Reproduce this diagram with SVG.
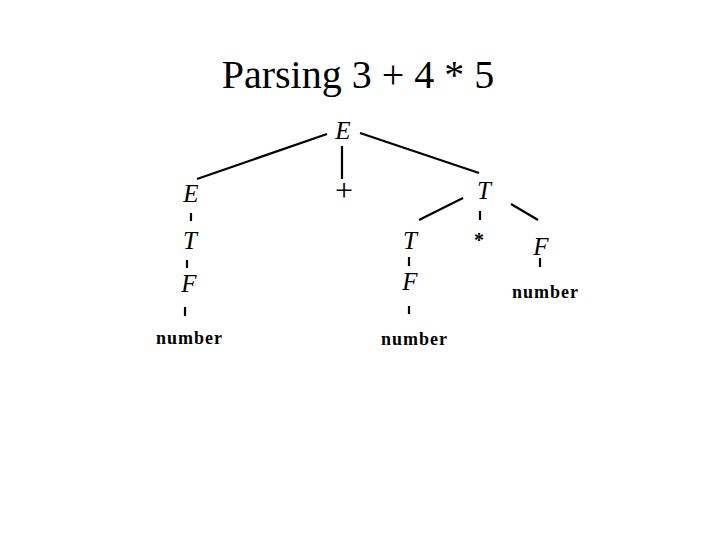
<svg xmlns="http://www.w3.org/2000/svg" width="720" height="540" viewBox="0 0 720 540">
<style>
.title{font-family:"Liberation Serif","DejaVu Serif","Times New Roman",serif;font-size:40px;fill:#000;text-anchor:middle}
.nt{font-family:"Liberation Serif","DejaVu Serif","Times New Roman",serif;font-size:25px;font-style:italic;fill:#000;text-anchor:middle}
.op{font-family:"Liberation Serif","DejaVu Serif","Times New Roman",serif;font-size:32px;fill:#000;text-anchor:middle}
.star{font-family:"Liberation Serif","DejaVu Serif","Times New Roman",serif;font-size:20px;font-weight:bold;fill:#000;text-anchor:middle}
.num{font-family:"Liberation Serif","DejaVu Serif","Times New Roman",serif;font-size:18px;font-weight:bold;fill:#000;text-anchor:middle}
.edge{stroke:#000;stroke-width:2.2;fill:none}
</style>
<rect width="720" height="540" fill="#fff"/>
<text class="title" x="358" y="88">Parsing 3 + 4 * 5</text>
<g id="connectors">
<line class="edge" x1="327" y1="134" x2="197" y2="179"/>
<line class="edge" x1="342" y1="146" x2="342" y2="179"/>
<line class="edge" x1="360" y1="133" x2="479" y2="173"/>
<line class="edge" x1="463" y1="198" x2="419" y2="220"/>
<line class="edge" x1="511" y1="204" x2="538" y2="220"/>
<line class="edge" x1="480" y1="211" x2="480" y2="220"/>
<line class="edge" x1="191" y1="213" x2="191" y2="221"/>
<line class="edge" x1="187" y1="260" x2="187" y2="268"/>
<line class="edge" x1="185" y1="307" x2="185" y2="316"/>
<line class="edge" x1="409" y1="257" x2="409" y2="266"/>
<line class="edge" x1="409" y1="306" x2="409" y2="314"/>
<line class="edge" x1="540" y1="258" x2="540" y2="267"/>
</g>
<g id="E-root"><text class="nt" x="343" y="139">E</text></g>
<g id="E-left"><text class="nt" x="191" y="202">E</text></g>
<g id="plus"><text class="op" x="344" y="201">+</text></g>
<g id="T-right"><text class="nt" x="484" y="199">T</text></g>
<g id="T-left"><text class="nt" x="190" y="249">T</text></g>
<g id="F-left"><text class="nt" x="189" y="292">F</text></g>
<g id="number-left"><text class="num" x="189" y="344" textLength="66">number</text></g>
<g id="T-mid"><text class="nt" x="410" y="249">T</text></g>
<g id="F-mid"><text class="nt" x="410" y="290">F</text></g>
<g id="number-mid"><text class="num" x="414" y="345" textLength="66">number</text></g>
<g id="star"><text class="star" x="479" y="247">*</text></g>
<g id="F-right"><text class="nt" x="541" y="255">F</text></g>
<g id="number-right"><text class="num" x="545" y="298" textLength="66">number</text></g>
</svg>
